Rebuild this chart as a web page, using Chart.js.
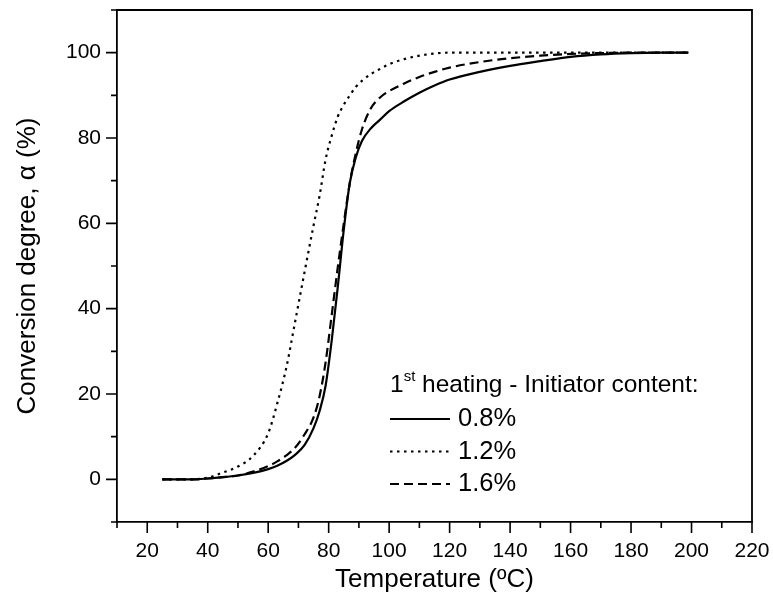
<!DOCTYPE html>
<html><head><meta charset="utf-8">
<script src="https://cdn.jsdelivr.net/npm/chart.js@4/dist/chart.umd.min.js"></script>
<style>html,body{margin:0;padding:0;background:#fff}canvas{display:block}</style>
</head><body>
<canvas id="c" width="773" height="605"></canvas>
<script>
// Temperature (°C)
const temperature = [25, 30, 35, 40, 45, 50, 55, 60, 63, 66, 69, 72, 75, 77, 79, 81, 83, 85, 87, 89, 91, 94, 97, 100, 105, 110, 115, 120, 130, 140, 150, 160, 170, 180, 190, 199];
// Conversion degree (%) for each initiator content
const conv08 = [0, 0, 0, 0.2, 0.5, 0.9, 1.5, 2.4, 3.2, 4.3, 5.8, 8.0, 12, 16, 22, 32.5, 45, 58.5, 69.5, 75.5, 79.3, 82.3, 84.3, 86.3, 88.6, 90.6, 92.3, 93.7, 95.5, 96.9, 98, 99, 99.6, 99.9, 100, 100];
const conv12 = [0, 0, 0, 0.4, 1.6, 3.0, 5.5, 10.8, 17.8, 26.2, 37.3, 48.5, 59.5, 66.5, 75, 80.5, 85, 87.8, 90, 92, 93.4, 95, 96.2, 97.3, 98.5, 99.3, 99.8, 100, 100, 100, 100, 100, 100, 100, 100, 100];
const conv16 = [0, 0, 0, 0.2, 0.5, 0.9, 1.8, 3.1, 4.2, 5.6, 7.5, 10.5, 14.5, 19.5, 27.5, 38.5, 49.6, 60, 69.5, 76.5, 82, 87, 89.5, 91, 92.8, 94.3, 95.5, 96.5, 97.8, 98.7, 99.3, 99.7, 99.9, 100, 100, 100];
const seriesLabels = ['0.8%', '1.2%', '1.6%'];
const legendHeading = ['1', 'st', ' heating - Initiator content:'];
const xTitle = 'Temperature (ºC)';
const yTitle = 'Conversion degree, α (%)';

const FONT = '"Liberation Sans", Arial, sans-serif';
const toXY = ys => temperature.map((t, i) => ({x: t, y: ys[i]}));
const styles = [
  {borderDash: []},
  {borderDash: [2.5, 4.5]},
  {borderDash: [9, 5]}
];
const datasets = [conv08, conv12, conv16].map((ys, i) => ({
  label: seriesLabels[i],
  data: toXY(ys),
  borderColor: '#000',
  borderWidth: 2.2,
  borderDash: styles[i].borderDash,
  pointRadius: 0,
  fill: false,
  cubicInterpolationMode: 'monotone'
}));

const framePlugin = {
  id: 'framePlugin',
  afterDraw(chart) {
    const ctx = chart.ctx;
    const a = chart.chartArea;
    ctx.save();
    ctx.strokeStyle = '#000';
    ctx.lineWidth = 1.8;
    ctx.beginPath();
    ctx.moveTo(a.left, a.top); ctx.lineTo(a.right, a.top); ctx.lineTo(a.right, a.bottom);
    ctx.stroke();
    // ticks
    const xs = chart.scales.x, ys = chart.scales.y;
    ctx.lineWidth = 1.6;
    ctx.beginPath();
    xs.ticks.forEach(t => {
      const p = xs.getPixelForValue(t.value);
      const len = (t.value % 20 === 0) ? 11 : 6;
      ctx.moveTo(p, a.bottom); ctx.lineTo(p, a.bottom + len);
    });
    ys.ticks.forEach(t => {
      const p = ys.getPixelForValue(t.value);
      const len = (t.value % 20 === 0) ? 11 : 6;
      ctx.moveTo(a.left, p); ctx.lineTo(a.left - len, p);
    });
    ctx.stroke();
    // legend
    const lx = a.left + 273, ly = a.top + 375;
    ctx.fillStyle = '#000';
    ctx.textBaseline = 'middle';
    ctx.textAlign = 'left';
    ctx.font = '24.5px ' + FONT;
    let x = lx;
    ctx.fillText(legendHeading[0], x, ly);
    x += ctx.measureText(legendHeading[0]).width;
    ctx.font = '15px ' + FONT;
    ctx.fillText(legendHeading[1], x, ly - 8);
    x += ctx.measureText(legendHeading[1]).width;
    ctx.font = '24.5px ' + FONT;
    ctx.fillText(legendHeading[2], x, ly);
    chart.data.datasets.forEach((ds, i) => {
      const yy = ly + 34 + i * 32.5;
      ctx.save();
      ctx.lineWidth = 2;
      ctx.setLineDash(ds.borderDash || []);
      ctx.beginPath();
      ctx.moveTo(lx, yy); ctx.lineTo(lx + 60, yy);
      ctx.stroke();
      ctx.restore();
      ctx.font = '25.5px ' + FONT;
      ctx.fillText(ds.label, lx + 68, yy);
    });
    ctx.restore();
  }
};

new Chart(document.getElementById('c'), {
  type: 'line',
  data: {datasets},
  options: {
    responsive: false,
    animation: false,
    devicePixelRatio: 1,
    layout: {padding: {top: 10, right: 21, left: 0, bottom: 0}},
    plugins: {legend: {display: false}, tooltip: {enabled: false}},
    scales: {
      x: {
        type: 'linear', min: 10, max: 220,
        afterFit: s => { s.height = 83; s.paddingLeft = 0; s.paddingRight = 0; },
        ticks: {
          stepSize: 10, autoSkip: false, maxRotation: 0, padding: 6,
          color: '#000', font: {family: FONT, size: 21},
          callback: v => (v % 20 === 0 ? String(v) : '')
        },
        grid: {drawOnChartArea: false, drawTicks: true, tickLength: 11, tickColor: 'rgba(0,0,0,0)'},
        border: {display: true, color: '#000', width: 1.8},
        title: {display: true, text: xTitle, color: '#000', font: {family: FONT, size: 26}, padding: {top: 0, bottom: 10}}
      },
      y: {
        type: 'linear', min: -10, max: 110,
        afterFit: s => { s.width = 117; s.paddingTop = 0; s.paddingBottom = 0; },
        ticks: {
          stepSize: 10, autoSkip: false, padding: 5,
          color: '#000', font: {family: FONT, size: 21},
          callback: v => ((v % 20 === 0 && v >= 0 && v <= 100) ? String(v) : '')
        },
        grid: {drawOnChartArea: false, drawTicks: true, tickLength: 11, tickColor: 'rgba(0,0,0,0)'},
        border: {display: true, color: '#000', width: 1.8},
        title: {display: true, text: yTitle, color: '#000', font: {family: FONT, size: 26}, padding: {top: 12, bottom: 0}}
      }
    }
  },
  plugins: [framePlugin]
});
</script>
</body></html>
